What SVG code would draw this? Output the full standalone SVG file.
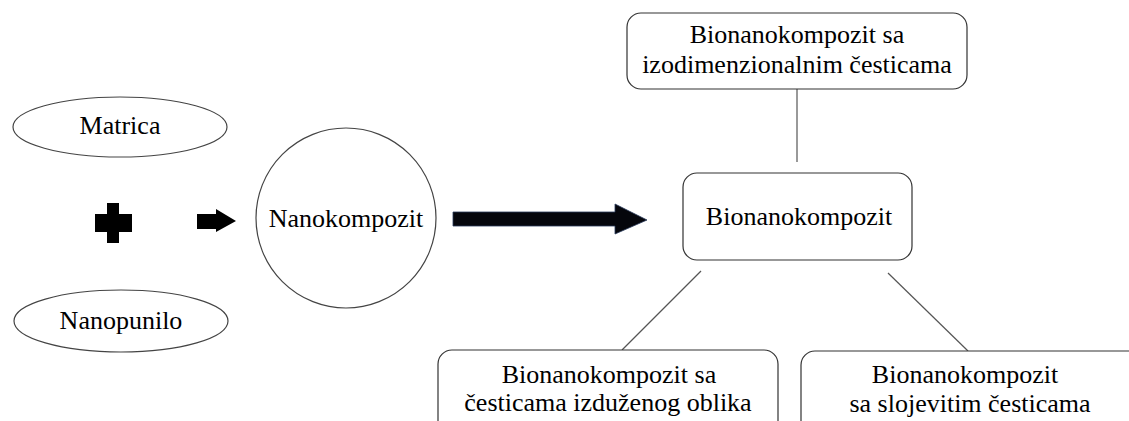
<svg xmlns="http://www.w3.org/2000/svg" width="1129" height="421" viewBox="0 0 1129 421">
<style>
text{font-family:"Liberation Serif","Times New Roman",serif;font-size:26px;fill:#000;text-anchor:middle}
.shape{fill:#fff;stroke:#444;stroke-width:1.2}
.box{fill:#fff;stroke:#333;stroke-width:1.2}
.conn{stroke:#555;stroke-width:1.2;fill:none}
.solid{fill:#000}
</style>
<rect width="1129" height="421" fill="#fff"/>
<g id="connectors">
<line class="conn" x1="797" y1="89" x2="797" y2="162"/>
<line class="conn" x1="701" y1="271" x2="622" y2="350"/>
<line class="conn" x1="888" y1="273" x2="968" y2="351"/>
<polygon class="solid" points="197,214 216,214 216,209 236,221 216,232 216,229 197,229"/>
<polygon points="453,212 615,212 615,204 647,220 615,234 615,226 453,226" fill="#05060c" stroke="#2a3a5a" stroke-width="0.8"/>
</g>
<g id="matrica">
<ellipse class="shape" cx="120" cy="127" rx="107" ry="30"/>
<text x="120" y="134">Matrica</text>
</g>
<g id="plus">
<path class="solid" d="M107,203 H119 V214 H132 V232 H119 V243 H107 V232 H95 V214 H107 Z"/>
</g>
<g id="nanopunilo">
<ellipse class="shape" cx="121" cy="321" rx="107" ry="31"/>
<text x="121" y="329">Nanopunilo</text>
</g>
<g id="nanokompozit">
<circle class="shape" cx="346" cy="218" r="90"/>
<text x="346" y="227">Nanokompozit</text>
</g>
<g id="bionanokompozit">
<rect class="box" x="683" y="173" width="229" height="87" rx="14"/>
<text x="799" y="225">Bionanokompozit</text>
</g>
<g id="izodimenzionalni">
<rect class="box" x="627" y="13" width="340" height="76" rx="14"/>
<text x="797" y="43">Bionanokompozit sa</text>
<text x="797" y="73">izodimenzionalnim česticama</text>
</g>
<g id="izduzeni">
<rect class="box" x="438" y="350" width="340" height="90" rx="14"/>
<text x="609" y="383">Bionanokompozit sa</text>
<text x="608" y="411">česticama izduženog oblika</text>
</g>
<g id="slojeviti">
<rect class="box" x="801" y="351" width="345" height="90" rx="14"/>
<text x="965" y="383">Bionanokompozit</text>
<text x="970" y="412">sa slojevitim česticama</text>
</g>
</svg>
